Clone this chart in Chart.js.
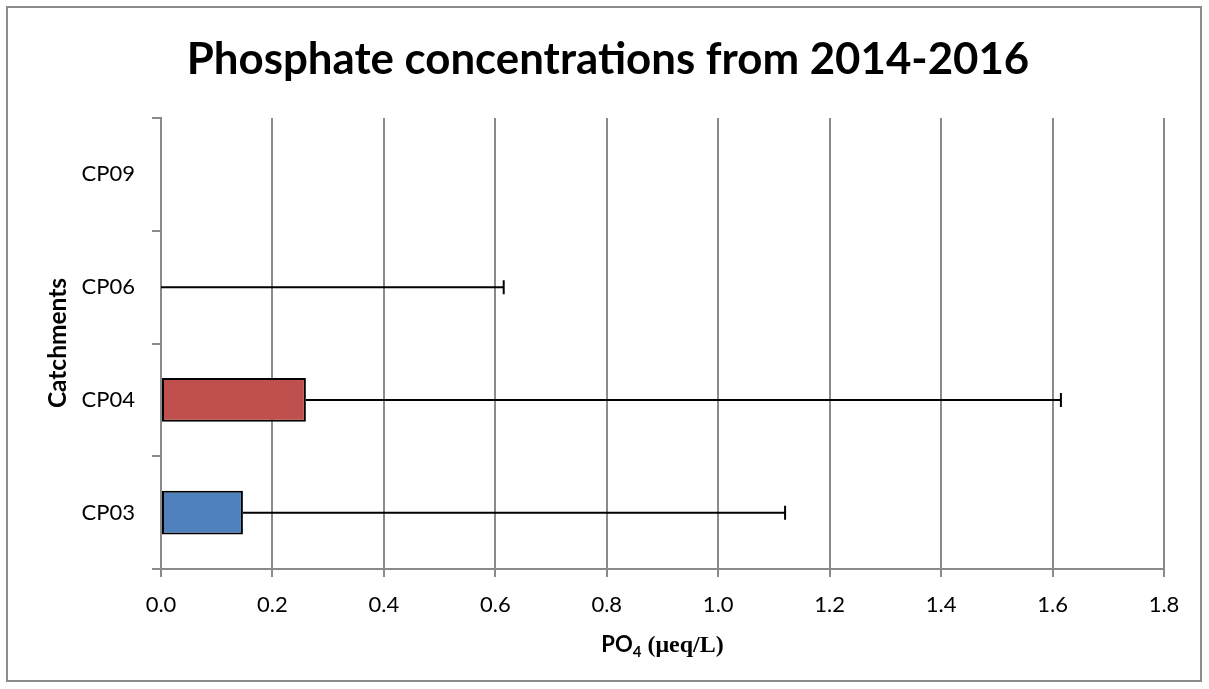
<!DOCTYPE html>
<html>
<head>
<meta charset="utf-8">
<script src="https://cdn.jsdelivr.net/npm/chart.js@4"></script>
<style>
  body { margin: 0; background: #fff; }
  #chart { display: block; }
</style>
</head>
<body>
<canvas id="chart" width="1209" height="689"></canvas>
<script>
// catchments, top to bottom as drawn
const categories = ['CP09', 'CP06', 'CP04', 'CP03'];
const means = [0, 0, 0.26, 0.147];
// plus-side error bar lengths
const errors = [0, 0.615, 1.355, 0.973];
const barColors = ['#8064A2', '#9BBB59', '#C0504D', '#4F81BD'];
const xMin = 0;
const xMax = 1.8;
const xStep = 0.2;

const chartTitle = 'Phosphate concentrations from 2014-2016';
const yTitle = 'Catchments';

const gridGray = '#8a8a8a';

const framePlugin = {
  id: 'frame',
  beforeDraw(chart) {
    const ctx = chart.ctx;
    ctx.save();
    ctx.fillStyle = '#fff';
    ctx.fillRect(0, 0, chart.width, chart.height);
    ctx.strokeStyle = '#8c8c8c';
    ctx.lineWidth = 2;
    ctx.strokeRect(7, 7, chart.width - 15, chart.height - 15);
    ctx.restore();
  },
};

const errorBarPlugin = {
  id: 'errorBars',
  afterDatasetsDraw(chart) {
    const ctx = chart.ctx;
    const x = chart.scales.x;
    const meta = chart.getDatasetMeta(0);
    ctx.save();
    ctx.strokeStyle = '#000';
    ctx.lineWidth = 2;
    meta.data.forEach((bar, i) => {
      if (!errors[i]) return;
      const x0 = x.getPixelForValue(means[i]);
      const x1 = x.getPixelForValue(means[i] + errors[i]);
      ctx.beginPath();
      ctx.moveTo(x0, bar.y);
      ctx.lineTo(x1, bar.y);
      ctx.moveTo(x1, bar.y - 7);
      ctx.lineTo(x1, bar.y + 7);
      ctx.stroke();
    });
    ctx.restore();
  },
};

const titlesPlugin = {
  id: 'titles',
  afterDraw(chart) {
    const ctx = chart.ctx;
    const area = chart.chartArea;
    ctx.save();
    ctx.fillStyle = '#000';
    ctx.textBaseline = 'middle';

    // main title, sized to match the reference width
    ctx.font = 'bold 40px Lato';
    let w = ctx.measureText(chartTitle).width;
    let size = 40 * 843 / w;
    ctx.font = 'bold ' + size.toFixed(1) + 'px Lato';
    ctx.textAlign = 'center';
    ctx.fillText(chartTitle, 608, 60);

    // y axis title
    ctx.save();
    ctx.translate(58, 343);
    ctx.rotate(-Math.PI / 2);
    ctx.font = 'bold 40px Lato';
    w = ctx.measureText(yTitle).width;
    size = 40 * 130 / w;
    ctx.font = 'bold ' + size.toFixed(1) + 'px Lato';
    ctx.fillText(yTitle, 0, 0);
    ctx.restore();

    // x axis title: PO4 (µeq/L) with subscript
    const parts = [
      { t: 'PO', font: 'bold 22px Lato', dy: 0 },
      { t: '4', font: 'bold 15px Lato', dy: 5 },
      { t: ' (\u03bceq/L)', font: 'bold 24px "Liberation Serif"', dy: 0 },
    ];
    let total = 0;
    parts.forEach((p) => {
      ctx.font = p.font;
      p.w = ctx.measureText(p.t).width;
      total += p.w;
    });
    let cx = (area.left + area.right) / 2 - total / 2;
    ctx.textAlign = 'left';
    ctx.textBaseline = 'alphabetic';
    parts.forEach((p) => {
      ctx.font = p.font;
      ctx.fillText(p.t, cx, 652 + p.dy);
      cx += p.w;
    });
    ctx.restore();
  },
};

const config = {
  type: 'bar',
  data: {
    labels: categories,
    datasets: [
      {
        label: 'PO4',
        data: means,
        backgroundColor: barColors,
        borderColor: '#000',
        borderWidth: 2,
        borderSkipped: false,
        barPercentage: 0.39,
        categoryPercentage: 1.0,
      },
    ],
  },
  options: {
    indexAxis: 'y',
    responsive: false,
    animation: false,
    layout: {
      padding: { left: 0, top: 118, right: 45, bottom: 0 },
    },
    plugins: {
      legend: { display: false },
      tooltip: { enabled: false },
      title: { display: false },
    },
    scales: {
      x: {
        min: xMin,
        max: xMax,
        afterFit: function (scale) {
          scale.height = 120;
        },
        ticks: {
          stepSize: xStep,
          color: '#000',
          padding: 15,
          font: { family: 'Lato', size: 22 },
          callback: function (value) {
            return Number(value).toFixed(1);
          },
        },
        grid: {
          color: gridGray,
          lineWidth: 2,
          tickLength: 8,
        },
        border: { color: gridGray, width: 2 },
      },
      y: {
        afterFit: function (scale) {
          scale.width = 161;
        },
        ticks: {
          color: '#000',
          padding: 17,
          font: { family: 'Lato', size: 22 },
        },
        grid: {
          color: gridGray,
          lineWidth: 2,
          drawOnChartArea: false,
          tickLength: 9,
          offset: true,
        },
        border: { color: gridGray, width: 2 },
      },
    },
  },
  plugins: [framePlugin, errorBarPlugin, titlesPlugin],
};

const ctx = document.getElementById('chart');
const newChart = new Chart(ctx, config);
</script>
</body>
</html>
